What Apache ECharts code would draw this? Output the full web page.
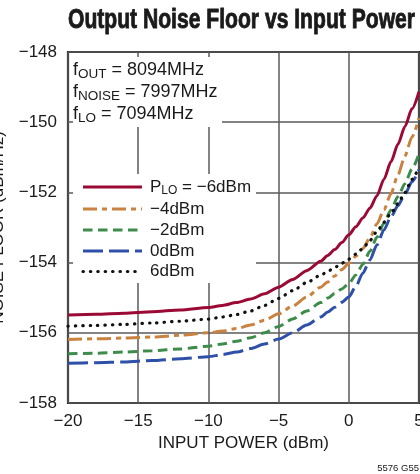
<!DOCTYPE html>
<html><head><meta charset="utf-8">
<script src="https://cdn.jsdelivr.net/npm/echarts@6/dist/echarts.min.js"></script>
<style>html,body{margin:0;padding:0;background:#fff;}#c{width:420px;height:474px;}</style>
</head><body><div id="c"></div>
<script>
// ---- data ----
const inputPower = [-20,-18,-16,-14,-12,-10,-9,-8,-7,-6,-5,-4,-3,-2,-1.5,-1,-0.5,0,0.5,1,1.5,2,2.5,3,3.5,4,4.5,5];
const ploMinus6 = [-155.49,-155.47,-155.44,-155.40,-155.35,-155.28,-155.22,-155.14,-155.04,-154.89,-154.70,-154.48,-154.23,-153.96,-153.80,-153.63,-153.43,-153.21,-152.98,-152.73,-152.45,-152.10,-151.63,-151.13,-150.63,-150.12,-149.62,-149.13];
const ploMinus4 = [-156.19,-156.17,-156.15,-156.12,-156.07,-156.00,-155.95,-155.88,-155.78,-155.64,-155.46,-155.24,-154.98,-154.70,-154.55,-154.38,-154.20,-154.02,-153.82,-153.60,-153.30,-152.90,-152.50,-152.04,-151.50,-150.96,-150.42,-149.88];
const ploMinus2 = [-156.60,-156.58,-156.55,-156.51,-156.46,-156.38,-156.32,-156.24,-156.14,-156.00,-155.82,-155.61,-155.38,-155.14,-155.01,-154.88,-154.75,-154.60,-154.35,-154.05,-153.68,-153.28,-152.88,-152.50,-152.12,-151.75,-151.33,-150.90];
const plo0 = [-156.87,-156.85,-156.83,-156.79,-156.74,-156.68,-156.62,-156.55,-156.45,-156.32,-156.18,-156.00,-155.78,-155.55,-155.41,-155.27,-155.13,-154.98,-154.68,-154.30,-153.93,-153.50,-153.07,-152.70,-152.38,-152.05,-151.70,-151.35];
const plo6 = [-155.81,-155.79,-155.76,-155.72,-155.67,-155.61,-155.55,-155.48,-155.38,-155.22,-155.02,-154.80,-154.57,-154.36,-154.25,-154.14,-154.02,-153.90,-153.76,-153.60,-153.37,-153.12,-152.85,-152.60,-152.32,-152.00,-151.63,-151.27];
const seriesLabels = ['\u22126dBm','\u22124dBm','\u22122dBm','0dBm','6dBm'];
const titleText = 'Output Noise Floor vs Input Power';
const xName = 'INPUT POWER (dBm)';
const yName = 'NOISE FLOOR (dBm/Hz)';
const condSubs = ['OUT','NOISE','LO'];
const condVals = ['8094MHz','7997MHz','7094MHz'];
const footnote = '5576 G55';

// ---- styling ----
const FONT = '"Liberation Sans", Arial, Helvetica, sans-serif';
const INK = '#1a1a1a';
const allValues = [ploMinus6, ploMinus4, ploMinus2, plo0, plo6];
const looks = [
  {color:'#9b0a35', dash:'solid', cap:'butt'},
  {color:'#c9823f', dash:[14,5,5,5], cap:'butt'},
  {color:'#3e8c4c', dash:[9.5,5.5], cap:'butt'},
  {color:'#2f50a8', dash:[20,6], cap:'butt'},
  {color:'#111111', dash:[0.4,7], cap:'round'}
];
const minus = v => v < 0 ? '\u2212' + Math.abs(v) : String(v);

const series = allValues.map((vals, i) => ({
  type: 'line',
  name: seriesLabels[i],
  data: inputPower.map((x, j) => [x, vals[j]]),
  symbol: 'none',
  smooth: 0.25,
  smoothMonotone: 'x',
  lineStyle: {color: looks[i].color, width: i === 4 ? 3.2 : 3, type: looks[i].dash, cap: looks[i].cap},
  z: 2,
  silent: true
}));

// title scaling (condensed look)
const ctx = document.createElement('canvas').getContext('2d');
ctx.font = 'bold 28px ' + FONT;
const tw = ctx.measureText(titleText).width;
const titleScale = 347 / tw;

const graphics = [];
// white masks that interrupt the grid behind the annotation text and legend
graphics.push({type:'rect', z:1, silent:true, shape:{x:73, y:57, width:149, height:70}, style:{fill:'#fff'}});
graphics.push({type:'rect', z:1, silent:true, shape:{x:73, y:174, width:183, height:109}, style:{fill:'#fff'}});
// title
graphics.push({type:'text', z:5, x:68, y:0, scaleX:titleScale, scaleY:1,
  style:{text:titleText, x:0, y:20.3, font:'bold 28px ' + FONT, fill:INK,
    stroke:INK, lineWidth:0.9,
    align:'left', verticalAlign:'middle', textAlign:'left', textVerticalAlign:'middle'}});
// condition text block
const condText = condSubs.map((s, i) => '{m|f}{s|' + s + '}{m| = ' + condVals[i] + '}').join('\n');
graphics.push({type:'text', z:5,
  style:{text:condText, x:73, y:59, fill:INK, font:'18px ' + FONT,
    align:'left', verticalAlign:'top', textAlign:'left', textVerticalAlign:'top',
    rich:{m:{fontSize:18, lineHeight:22, fontFamily:FONT, fill:INK, color:INK},
          s:{fontSize:13.5, lineHeight:12, verticalAlign:'bottom', fontFamily:FONT, fill:INK, color:INK}}}});
// legend
const rowY = [187, 209, 230, 251, 271.5];
seriesLabels.forEach((lab, i) => {
  graphics.push({type:'line', z:5, silent:true,
    shape:{x1:83, y1:rowY[i], x2:142, y2:rowY[i]},
    style:{stroke:looks[i].color, lineWidth: i === 4 ? 3.2 : 3, lineCap: looks[i].cap,
      lineDash: looks[i].dash === 'solid' ? null : looks[i].dash}});
  const t = i === 0 ? '{m|P}{s|LO}{m| = ' + lab + '}' : '{m|' + lab + '}';
  graphics.push({type:'text', z:5,
    style:{text:t, x:150, y:rowY[i], fill:INK, font:'17px ' + FONT,
      align:'left', verticalAlign:'middle', textAlign:'left', textVerticalAlign:'middle',
      rich:{m:{fontSize:17, lineHeight:20, fontFamily:FONT, fill:INK, color:INK},
            s:{fontSize:12, lineHeight:9, verticalAlign:'bottom', fontFamily:FONT, fill:INK, color:INK}}}});
});
// footnote
graphics.push({type:'text', z:5,
  style:{text:footnote, x:419, y:468.5, font:'9.5px ' + FONT, fill:INK,
    align:'right', verticalAlign:'middle', textAlign:'right', textVerticalAlign:'middle'}});

const chart = echarts.init(document.getElementById('c'), null, {renderer:'canvas'});
chart.setOption({
  animation: false,
  backgroundColor: '#fff',
  grid: {left:68, top:52, right:1, bottom:71, show:true, borderColor:'#1c1c1c', borderWidth:2.2, containLabel:false, outerBoundsMode:'none'},
  xAxis: {
    type:'value', min:-20, max:5, interval:5,
    name: xName, nameLocation:'middle', nameGap:26,
    nameTextStyle:{fontSize:17, fontFamily:FONT, color:INK},
    axisLine:{show:false}, axisTick:{show:false},
    axisLabel:{fontSize:17, fontFamily:FONT, color:INK, margin:10, formatter:minus, alignMaxLabel:'center', alignMinLabel:'center'},
    splitLine:{show:true, lineStyle:{color:'#5a5a5a', width:1.5}}
  },
  yAxis: {
    type:'value', min:-158, max:-148, interval:2,
    name: yName, nameLocation:'middle', nameGap:61, nameRotate:90,
    nameTextStyle:{fontSize:17, fontFamily:FONT, color:INK},
    axisLine:{show:false}, axisTick:{show:false},
    axisLabel:{fontSize:17, fontFamily:FONT, color:INK, margin:11, formatter:minus},
    splitLine:{show:true, lineStyle:{color:'#5a5a5a', width:1.5}}
  },
  graphic: {elements: graphics},
  series: series
});
</script></body></html>
